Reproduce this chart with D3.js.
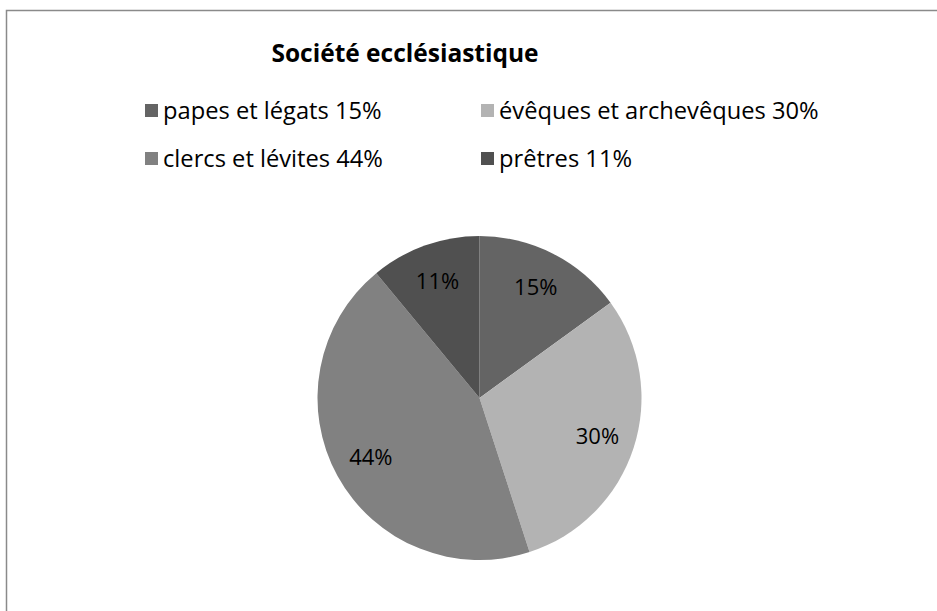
<!DOCTYPE html>
<html><head><meta charset="utf-8">
<script src="https://cdn.jsdelivr.net/npm/d3@7"></script>
<style>html,body{margin:0;padding:0;background:#fff;}svg{display:block;}</style>
</head><body>
<svg id="c" width="937" height="611"></svg>
<script>
const title = "Société ecclésiastique";
const categories = ["papes et légats", "évêques et archevêques", "clercs et lévites", "prêtres"];
const values = [15, 30, 44, 11];
const colors = ["#646464", "#b3b3b3", "#818181", "#505050"];

const svg = d3.select("#c");
const font = "'Open Sans', sans-serif";

svg.append("rect").attr("x", 6.5).attr("y", 10.5).attr("width", 1000).attr("height", 1000)
  .attr("fill", "#fff").attr("stroke", "#8a8a8a").attr("stroke-width", 1.5);

svg.append("text").attr("x", 405).attr("y", 62).attr("text-anchor", "middle")
  .attr("font-family", font).attr("font-weight", "bold").attr("font-size", 24.5)
  .attr("fill", "#000").text(title);

const total = d3.sum(values);
const pct = values.map(v => Math.round(v / total * 100) + "%");

const legPos = [[145, 104], [481, 104], [145, 152], [481, 152]];
const leg = svg.append("g").selectAll("g").data(categories).join("g")
  .attr("transform", (d, i) => `translate(${legPos[i][0]},${legPos[i][1]})`);
leg.append("rect").attr("width", 13).attr("height", 13).attr("fill", (d, i) => colors[i]);
leg.append("text").attr("x", 18).attr("y", 15)
  .attr("font-family", font).attr("font-size", 23.7).attr("fill", "#000")
  .text((d, i) => d + " " + pct[i]);

const cx = 479.5, cy = 398, r = 162;
const pie = d3.pie().sort(null).value(d => d);
const arcs = pie(values);
const arc = d3.arc().innerRadius(0).outerRadius(r);
const labelArc = d3.arc().innerRadius(124).outerRadius(124);
const g = svg.append("g").attr("transform", `translate(${cx},${cy})`);
g.selectAll("path").data(arcs).join("path").attr("d", arc).attr("fill", (d, i) => colors[i]);
g.selectAll("text").data(arcs).join("text")
  .attr("transform", d => `translate(${labelArc.centroid(d)})`)
  .attr("text-anchor", "middle").attr("dy", "0.35em")
  .attr("font-family", font).attr("font-size", 22).attr("fill", "#000")
  .text((d, i) => pct[i]);
</script>
</body></html>
